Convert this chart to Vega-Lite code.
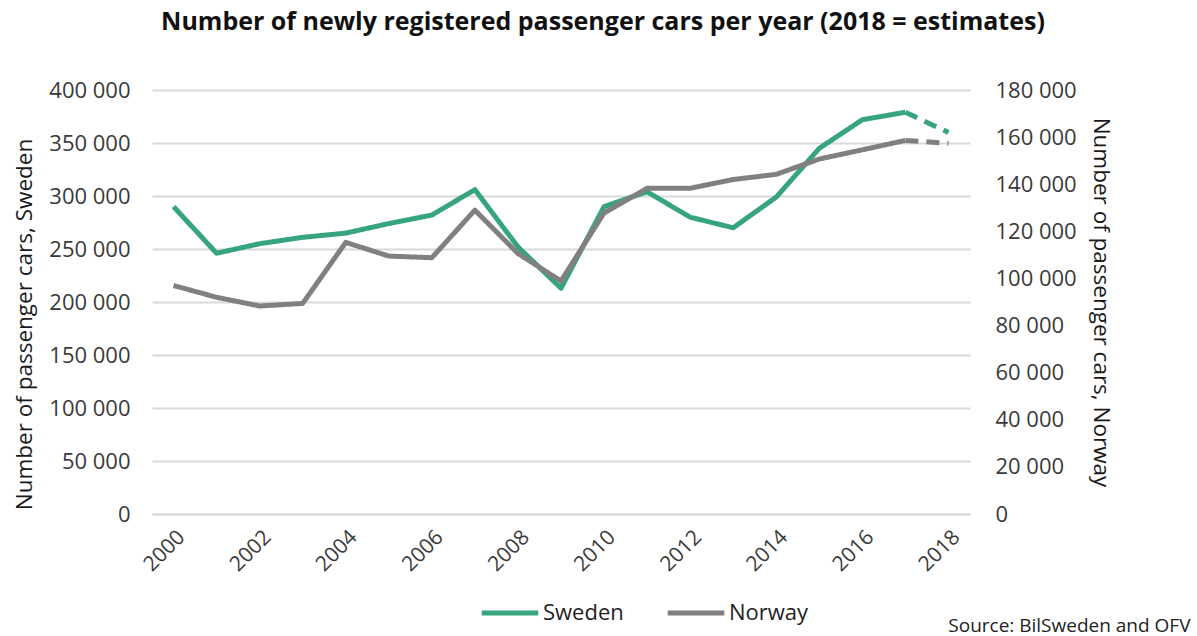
{
  "$schema": "https://vega.github.io/schema/vega-lite/v6.json",
  "width": 818,
  "height": 424,
  "autosize": "none",
  "padding": {"left": 152, "top": 90, "right": 227, "bottom": 122},
  "background": "white",
  "config": {
    "font": "Open Sans",
    "view": {"stroke": null},
    "axis": {"labelFont": "Open Sans", "titleFont": "Open Sans", "labelColor": "#3a3a3a", "titleColor": "#1a1a1a", "titleFontWeight": "normal"}
  },
  "title": {
    "text": "Number of newly registered passenger cars per year (2018 = estimates)",
    "fontSize": 25,
    "fontWeight": "bold",
    "font": "Open Sans",
    "color": "#111111",
    "anchor": "middle",
    "frame": "group",
    "offset": 44,
    "dx": 42
  },
  "data": {
    "values": [
      {"year": 2000, "country": "Sweden", "value": 290000, "part": "actual"},
      {"year": 2001, "country": "Sweden", "value": 246000, "part": "actual"},
      {"year": 2002, "country": "Sweden", "value": 255000, "part": "actual"},
      {"year": 2003, "country": "Sweden", "value": 261000, "part": "actual"},
      {"year": 2004, "country": "Sweden", "value": 265000, "part": "actual"},
      {"year": 2005, "country": "Sweden", "value": 274000, "part": "actual"},
      {"year": 2006, "country": "Sweden", "value": 282000, "part": "actual"},
      {"year": 2007, "country": "Sweden", "value": 306000, "part": "actual"},
      {"year": 2008, "country": "Sweden", "value": 252000, "part": "actual"},
      {"year": 2009, "country": "Sweden", "value": 213000, "part": "actual"},
      {"year": 2010, "country": "Sweden", "value": 290000, "part": "actual"},
      {"year": 2011, "country": "Sweden", "value": 304000, "part": "actual"},
      {"year": 2012, "country": "Sweden", "value": 280000, "part": "actual"},
      {"year": 2013, "country": "Sweden", "value": 270000, "part": "actual"},
      {"year": 2014, "country": "Sweden", "value": 299000, "part": "actual"},
      {"year": 2015, "country": "Sweden", "value": 345000, "part": "actual"},
      {"year": 2016, "country": "Sweden", "value": 372000, "part": "actual"},
      {"year": 2017, "country": "Sweden", "value": 379000, "part": "actual"},
      {"year": 2017, "country": "Sweden", "value": 379000, "part": "estimate"},
      {"year": 2018, "country": "Sweden", "value": 360000, "part": "estimate"},
      {"year": 2000, "country": "Norway", "value": 97000, "part": "actual"},
      {"year": 2001, "country": "Norway", "value": 92000, "part": "actual"},
      {"year": 2002, "country": "Norway", "value": 88300, "part": "actual"},
      {"year": 2003, "country": "Norway", "value": 89400, "part": "actual"},
      {"year": 2004, "country": "Norway", "value": 115300, "part": "actual"},
      {"year": 2005, "country": "Norway", "value": 109500, "part": "actual"},
      {"year": 2006, "country": "Norway", "value": 108800, "part": "actual"},
      {"year": 2007, "country": "Norway", "value": 129000, "part": "actual"},
      {"year": 2008, "country": "Norway", "value": 110600, "part": "actual"},
      {"year": 2009, "country": "Norway", "value": 98900, "part": "actual"},
      {"year": 2010, "country": "Norway", "value": 127800, "part": "actual"},
      {"year": 2011, "country": "Norway", "value": 138300, "part": "actual"},
      {"year": 2012, "country": "Norway", "value": 138300, "part": "actual"},
      {"year": 2013, "country": "Norway", "value": 142000, "part": "actual"},
      {"year": 2014, "country": "Norway", "value": 144200, "part": "actual"},
      {"year": 2015, "country": "Norway", "value": 150700, "part": "actual"},
      {"year": 2016, "country": "Norway", "value": 154600, "part": "actual"},
      {"year": 2017, "country": "Norway", "value": 158600, "part": "actual"},
      {"year": 2017, "country": "Norway", "value": 158600, "part": "estimate"},
      {"year": 2018, "country": "Norway", "value": 157400, "part": "estimate"}
    ]
  },
  "encoding": {
    "x": {
      "field": "year",
      "type": "ordinal",
      "scale": {"type": "point", "padding": 0.5},
      "axis": {
        "values": [2000, 2002, 2004, 2006, 2008, 2010, 2012, 2014, 2016, 2018],
        "labelAngle": -45,
        "labelFontSize": 21,
        "labelPadding": 12,
        "ticks": false,
        "domain": true,
        "domainColor": "#d9d9d9",
        "domainWidth": 2,
        "grid": false,
        "title": "Source: BilSweden and OFV",
        "titleFontSize": 19,
        "titleAnchor": "end",
        "titleAlign": "right",
        "titleBaseline": "middle",
        "titleX": 1038,
        "titleY": 111,
        "titleColor": "#222222"
      }
    }
  },
  "layer": [
    {
      "transform": [{"filter": "datum.country === 'Sweden'"}],
      "mark": {"type": "line", "strokeWidth": 5, "strokeJoin": "round", "strokeCap": "butt"},
      "encoding": {
        "y": {
          "field": "value",
          "type": "quantitative",
          "scale": {"domain": [0, 400000]},
          "axis": {
            "values": [0, 50000, 100000, 150000, 200000, 250000, 300000, 350000, 400000],
            "format": ",d",
            "labelExpr": "replace(datum.label, /,/g, ' ')",
            "labelFontSize": 22,
            "labelPadding": 22,
            "ticks": false,
            "domain": false,
            "grid": true,
            "gridColor": "#d9d9d9",
            "gridWidth": 2,
            "title": "Number of passenger cars, Sweden",
            "titleFontSize": 22.5,
            "titlePadding": 12,
            "titleY": 234
          }
        },
        "color": {
          "field": "country",
          "type": "nominal",
          "scale": {"domain": ["Sweden", "Norway"], "range": ["#36a57d", "#808080"]},
          "legend": {
            "orient": "none",
            "legendX": 327,
            "legendY": 492,
            "direction": "horizontal",
            "title": null,
            "symbolType": "stroke",
            "symbolSize": 3200,
            "symbolStrokeWidth": 5,
            "labelFontSize": 22,
            "labelFont": "Open Sans",
            "labelColor": "#222222",
            "labelOffset": 2,
            "columnPadding": 33
          }
        },
        "strokeDash": {
          "field": "part",
          "type": "nominal",
          "scale": {"domain": ["actual", "estimate"], "range": [[1, 0], [13, 8]]},
          "legend": null
        }
      }
    },
    {
      "transform": [{"filter": "datum.country === 'Norway'"}],
      "mark": {"type": "line", "strokeWidth": 5, "strokeJoin": "round", "strokeCap": "butt"},
      "encoding": {
        "y": {
          "field": "value",
          "type": "quantitative",
          "scale": {"domain": [0, 180000]},
          "axis": {
            "orient": "right",
            "values": [0, 20000, 40000, 60000, 80000, 100000, 120000, 140000, 160000, 180000],
            "format": ",d",
            "labelExpr": "replace(datum.label, /,/g, ' ')",
            "labelFontSize": 22,
            "labelPadding": 25,
            "ticks": false,
            "domain": false,
            "grid": false,
            "title": "Number of passenger cars, Norway",
            "titleFontSize": 22.5,
            "titlePadding": 12
          }
        },
        "color": {
          "field": "country",
          "type": "nominal",
          "scale": {"domain": ["Sweden", "Norway"], "range": ["#36a57d", "#808080"]}
        },
        "strokeDash": {
          "field": "part",
          "type": "nominal",
          "scale": {"domain": ["actual", "estimate"], "range": [[1, 0], [13, 8]]},
          "legend": null
        }
      }
    }
  ],
  "resolve": {"scale": {"y": "independent"}, "axis": {"y": "independent"}}
}
